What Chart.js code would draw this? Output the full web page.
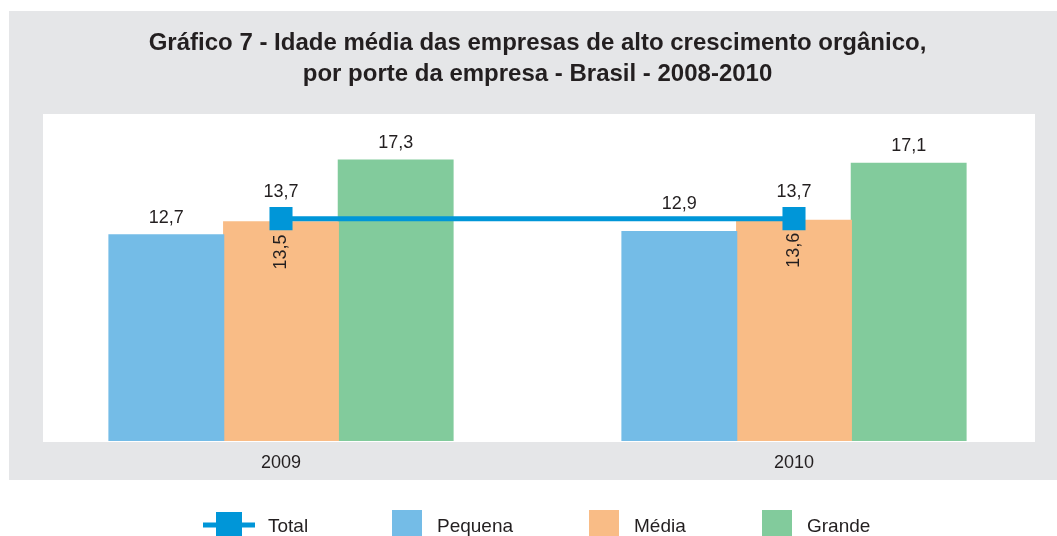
<!DOCTYPE html>
<html>
<head>
<meta charset="utf-8">
<script src="https://cdn.jsdelivr.net/npm/chart.js@4"></script>
<style>
  html, body { margin: 0; padding: 0; background: #ffffff; }
  canvas { display: block; }
</style>
</head>
<body>
<canvas id="chart" width="1057" height="536"></canvas>
<script>
// --- 1. Data ---
const years = ["2009", "2010"];
const total = [13.7, 13.7];
const pequena = [12.7, 12.9];
const media = [13.5, 13.6];
const grande = [17.3, 17.1];

const titleLines = [
  "Gráfico 7 - Idade média das empresas de alto crescimento orgânico,",
  "por porte da empresa - Brasil - 2008-2010"
];

// --- 2. Colours ---
const colTotal = "#0096d8";
const colPequena = "#74bce7";
const colMedia = "#f9bc86";
const colGrande = "#82cb9c";
const colText = "#231f20";
const colPanel = "#e5e6e8";
const fontFamily = "'Liberation Sans', Arial, Helvetica, sans-serif";

const fmt = v => v.toFixed(1).replace(".", ",");

// --- 3. Plugins: background panel, value labels, legend ---
const backgroundPlugin = {
  id: "panel",
  beforeDraw(chart) {
    const c = chart.ctx;
    c.save();
    c.fillStyle = "#ffffff";
    c.fillRect(0, 0, chart.width, chart.height);
    c.fillStyle = colPanel;
    c.fillRect(9, 11, chart.width - 9, 469);
    c.fillStyle = "#ffffff";
    c.fillRect(43, 114, 992, 328);
    c.restore();
  }
};

const valueLabels = {
  id: "valueLabels",
  afterDatasetsDraw(chart) {
    const c = chart.ctx;
    const lineMeta = chart.getDatasetMeta(0);
    const lineXs = lineMeta.data.map(p => p.x);
    const lineY = lineMeta.data[0].y;
    c.save();
    c.fillStyle = colText;
    c.font = "18px " + fontFamily;
    c.textAlign = "center";
    c.textBaseline = "middle";

    // total labels above the markers
    lineMeta.data.forEach((p, i) => {
      c.fillText(fmt(total[i]), p.x, p.y - 27);
    });

    // pequena and grande above the bars
    [1, 3].forEach(di => {
      const meta = chart.getDatasetMeta(di);
      const vals = chart.data.datasets[di].data;
      meta.data.forEach((bar, i) => {
        let y = bar.y - 17;
        const insideLine = bar.x >= Math.min(...lineXs) - 20 && bar.x <= Math.max(...lineXs) + 20;
        if (insideLine && Math.abs(y - lineY) < 12) y = lineY - 15;
        c.fillText(fmt(vals[i]), bar.x, y);
      });
    });

    // media rotated inside the bars
    const mMeta = chart.getDatasetMeta(2);
    mMeta.data.forEach((bar, i) => {
      c.save();
      c.translate(bar.x, bar.y + 30);
      c.rotate(-Math.PI / 2);
      c.fillText(fmt(media[i]), 0, 0);
      c.restore();
    });
    c.restore();
  }
};

const customLegend = {
  id: "customLegend",
  afterDraw(chart) {
    const c = chart.ctx;
    const y = 525;
    c.save();
    c.font = "19px " + fontFamily;
    c.fillStyle = colText;
    c.textBaseline = "alphabetic";
    c.textAlign = "left";

    // Total: line with square marker
    c.strokeStyle = colTotal;
    c.lineWidth = 5;
    c.beginPath();
    c.moveTo(203, y);
    c.lineTo(255, y);
    c.stroke();
    c.fillStyle = colTotal;
    c.fillRect(216, y - 13, 26, 26);
    c.fillStyle = colText;
    c.fillText("Total", 268, y + 7);

    const boxes = [
      { label: "Pequena", color: colPequena, x: 392 },
      { label: "Média", color: colMedia, x: 589 },
      { label: "Grande", color: colGrande, x: 762 }
    ];
    boxes.forEach(b => {
      c.fillStyle = b.color;
      c.fillRect(b.x, y - 15, 30, 30);
      c.fillStyle = colText;
      c.fillText(b.label, b.x + 45, y + 7);
    });
    c.restore();
  }
};

// --- 4. Chart ---
const ctx = document.getElementById("chart").getContext("2d");

new Chart(ctx, {
  data: {
    labels: years,
    datasets: [
      {
        type: "line",
        label: "Total",
        data: total,
        borderColor: colTotal,
        backgroundColor: colTotal,
        borderWidth: 5,
        pointStyle: "rect",
        pointRadius: 16.3,
        pointHoverRadius: 16.3,
        pointBorderWidth: 0,
        tension: 0,
        order: 0
      },
      {
        type: "bar",
        label: "Pequena",
        data: pequena,
        backgroundColor: colPequena,
        order: 1
      },
      {
        type: "bar",
        label: "Média",
        data: media,
        backgroundColor: colMedia,
        order: 1
      },
      {
        type: "bar",
        label: "Grande",
        data: grande,
        backgroundColor: colGrande,
        order: 1
      }
    ]
  },
  options: {
    responsive: false,
    devicePixelRatio: 1,
    animation: false,
    layout: {
      autoPadding: false,
      padding: { left: 24.5, right: 6.5, top: 0, bottom: 51.4 }
    },
    datasets: {
      bar: { barPercentage: 1, categoryPercentage: 0.6706, borderWidth: 0, inflateAmount: 0.6 }
    },
    plugins: {
      legend: { display: false },
      tooltip: { enabled: false },
      title: {
        display: true,
        text: titleLines,
        color: colText,
        font: { family: fontFamily, size: 24, weight: "bold", lineHeight: 1.3 },
        padding: { top: 28, bottom: 26 }
      }
    },
    scales: {
      x: {
        offset: true,
        grid: { display: false, drawTicks: false },
        border: { display: false },
        ticks: {
          color: colText,
          padding: 11,
          font: { family: fontFamily, size: 18, lineHeight: 1.2 }
        }
      },
      y: {
        display: false,
        min: 0,
        max: 20
      }
    }
  },
  plugins: [backgroundPlugin, valueLabels, customLegend]
});
</script>
</body>
</html>
